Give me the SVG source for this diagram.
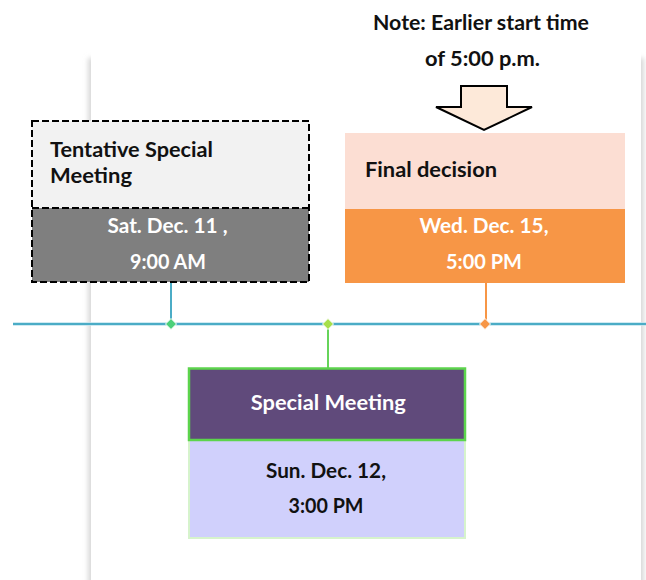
<svg xmlns="http://www.w3.org/2000/svg" width="646" height="580" viewBox="0 0 646 580">
<defs>
<filter id="shadow" x="-10%" y="-10%" width="120%" height="120%">
<feGaussianBlur stdDeviation="2.5"/>
</filter>
</defs>
<style>
text{font-family:Lato,"Liberation Sans",sans-serif;font-weight:bold;font-size:21px;}
.dk{fill:#111111;}
.wt{fill:#ffffff;}
.mid{text-anchor:middle;}
.conn{fill:none;stroke-width:2;}
.dia{stroke:#ffffff;stroke-width:1;}
</style>
<rect width="646" height="580" fill="#ffffff"/>
<g id="page">
<rect x="88" y="58" width="556" height="560" fill="#d8d8d8" filter="url(#shadow)"/>
<rect x="91" y="0" width="550" height="600" fill="#ffffff"/>
</g>
<g id="note">
<text class="dk mid" x="481" y="30" textLength="216" lengthAdjust="spacingAndGlyphs">Note: Earlier start time</text>
<text class="dk mid" x="482.5" y="66" textLength="115" lengthAdjust="spacingAndGlyphs">of 5:00 p.m.</text>
<polygon points="461,86 507,86 507,107 532,107 484,130 436,107 461,107" fill="#fde9d9" stroke="#000000" stroke-width="2" stroke-linejoin="miter"/>
</g>
<g id="connectors">
<line x1="13" y1="324" x2="646" y2="324" stroke="#bfe3ee" stroke-width="3.5"/>
<line x1="13" y1="324" x2="646" y2="324" stroke="#4bacc6" stroke-width="2"/>
<line class="conn" x1="171" y1="282" x2="171" y2="323" stroke="#4bacc6"/>
<line class="conn" x1="328" y1="324" x2="328" y2="368" stroke="#66d45a"/>
<line class="conn" x1="486" y1="283" x2="486" y2="323" stroke="#f79646"/>
<polygon class="dia" points="171,318.5 176.5,324 171,329.5 165.5,324" fill="#4cd07a"/>
<polygon class="dia" points="328,318.5 333.5,324 328,329.5 322.5,324" fill="#a6df4a"/>
<polygon class="dia" points="485,318.5 490.5,324 485,329.5 479.5,324" fill="#f79646"/>
</g>
<g id="tentative">
<rect x="32" y="121" width="277" height="87" fill="#f2f2f2"/>
<rect x="32" y="208" width="277" height="74" fill="#7f7f7f"/>
<rect x="32" y="121" width="277" height="161" fill="none" stroke="#000000" stroke-width="2" stroke-dasharray="7,3"/>
<line x1="32" y1="208" x2="309" y2="208" stroke="#000000" stroke-width="2" stroke-dasharray="7,3"/>
<text class="dk" x="50" y="157" textLength="163" lengthAdjust="spacingAndGlyphs">Tentative Special</text>
<text class="dk" x="50" y="183" textLength="82" lengthAdjust="spacingAndGlyphs">Meeting</text>
<text class="wt mid" x="167.5" y="233" textLength="120" lengthAdjust="spacingAndGlyphs">Sat. Dec. 11 ,</text>
<text class="wt mid" x="168" y="269" textLength="76" lengthAdjust="spacingAndGlyphs">9:00 AM</text>
</g>
<g id="final">
<rect x="345" y="133" width="280" height="76" fill="#fcded3"/>
<rect x="345" y="209" width="280" height="74" fill="#f79646"/>
<text class="dk" x="365" y="177" textLength="132" lengthAdjust="spacingAndGlyphs">Final decision</text>
<text class="wt mid" x="484" y="233" textLength="129" lengthAdjust="spacingAndGlyphs">Wed. Dec. 15,</text>
<text class="wt mid" x="484" y="269" textLength="76" lengthAdjust="spacingAndGlyphs">5:00 PM</text>
</g>
<g id="special">
<rect x="189" y="440" width="276" height="98" fill="#d0d0fc" stroke="#d6f3cc" stroke-width="2"/>
<rect x="189" y="368.5" width="276" height="71.5" fill="#604a7b" stroke="#5cd44c" stroke-width="2.5"/>
<text class="wt mid" x="328.3" y="410" textLength="155" lengthAdjust="spacingAndGlyphs">Special Meeting</text>
<text class="dk mid" x="326" y="478" textLength="120" lengthAdjust="spacingAndGlyphs">Sun. Dec. 12,</text>
<text class="dk mid" x="326" y="513" textLength="75" lengthAdjust="spacingAndGlyphs">3:00 PM</text>
</g>
</svg>
